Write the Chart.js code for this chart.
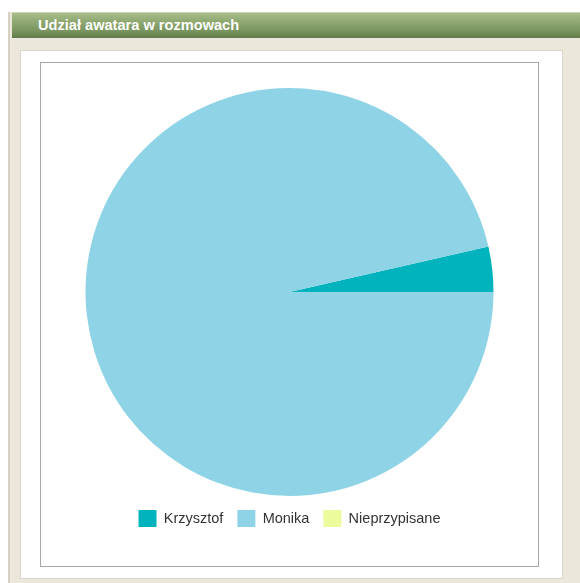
<!DOCTYPE html>
<html>
<head>
<meta charset="utf-8">
<script src="https://cdn.jsdelivr.net/npm/chart.js@4"></script>
<style>
    body { margin: 0; background: #fff; width: 580px; height: 583px; overflow: hidden; position: relative; font-family: "Liberation Sans", Arial, sans-serif; }
    .panel { position: absolute; left: 8px; top: 12px; width: 572px; height: 571px; background: #ece7db; border-left: 2px solid #d6d1c2; box-sizing: border-box; }
    .header { position: absolute; left: 2px; top: 0; right: 0; height: 26px; background: linear-gradient(#a9bd8e 0%, #91ab73 30%, #7b9660 70%, #617a47 100%); border-top: 1px solid #c9d4b4; box-sizing: border-box; color: #fff; font-weight: bold; font-size: 14.6px; line-height: 24px; padding-left: 26px; }
    .box { position: absolute; left: 20px; top: 50px; width: 543px; height: 529px; background: #fff; border: 1px solid #d9d5cb; box-sizing: border-box; }
    .chartbox { position: absolute; left: 40px; top: 62px; width: 499px; height: 505px; border: 1px solid #a8a8a8; box-sizing: border-box; background: #fff; }
    .chartbox canvas { position: absolute; left: 0; top: 0; }
</style>
</head>
<body>
<div class="panel">
    <div class="header">Udział awatara w rozmowach</div>
</div>
<div class="box"></div>
<div class="chartbox"><canvas id="pieChart" width="497" height="503"></canvas></div>
<script>
// avatar share in conversations
const labels = ['Krzysztof', 'Monika', 'Nieprzypisane'];
const counts = [1, 27, 0];
const colors = ['#00b3bd', '#8fd4e6', '#ecfb9c'];

const total = counts.reduce((a, b) => a + b, 0);
// first slice ends at 3 o'clock, going counter-clockwise from there
const startAngle = 90 - 360 * counts[0] / total;

const ctx = document.getElementById('pieChart').getContext('2d');
new Chart(ctx, {
    type: 'pie',
    data: {
        labels: labels,
        datasets: [{
            data: counts,
            backgroundColor: colors,
            borderWidth: 0
        }]
    },
    options: {
        responsive: false,
        animation: false,
        rotation: startAngle,
        layout: { padding: { top: 25, bottom: 29 } },
        plugins: {
            tooltip: { enabled: false },
            legend: {
                position: 'bottom',
                labels: {
                    boxWidth: 18,
                    boxHeight: 17,
                    padding: 14,
                    color: '#333',
                    font: { family: '"Liberation Sans", Arial, sans-serif', size: 14.5 }
                }
            }
        }
    }
});
</script>
</body>
</html>
